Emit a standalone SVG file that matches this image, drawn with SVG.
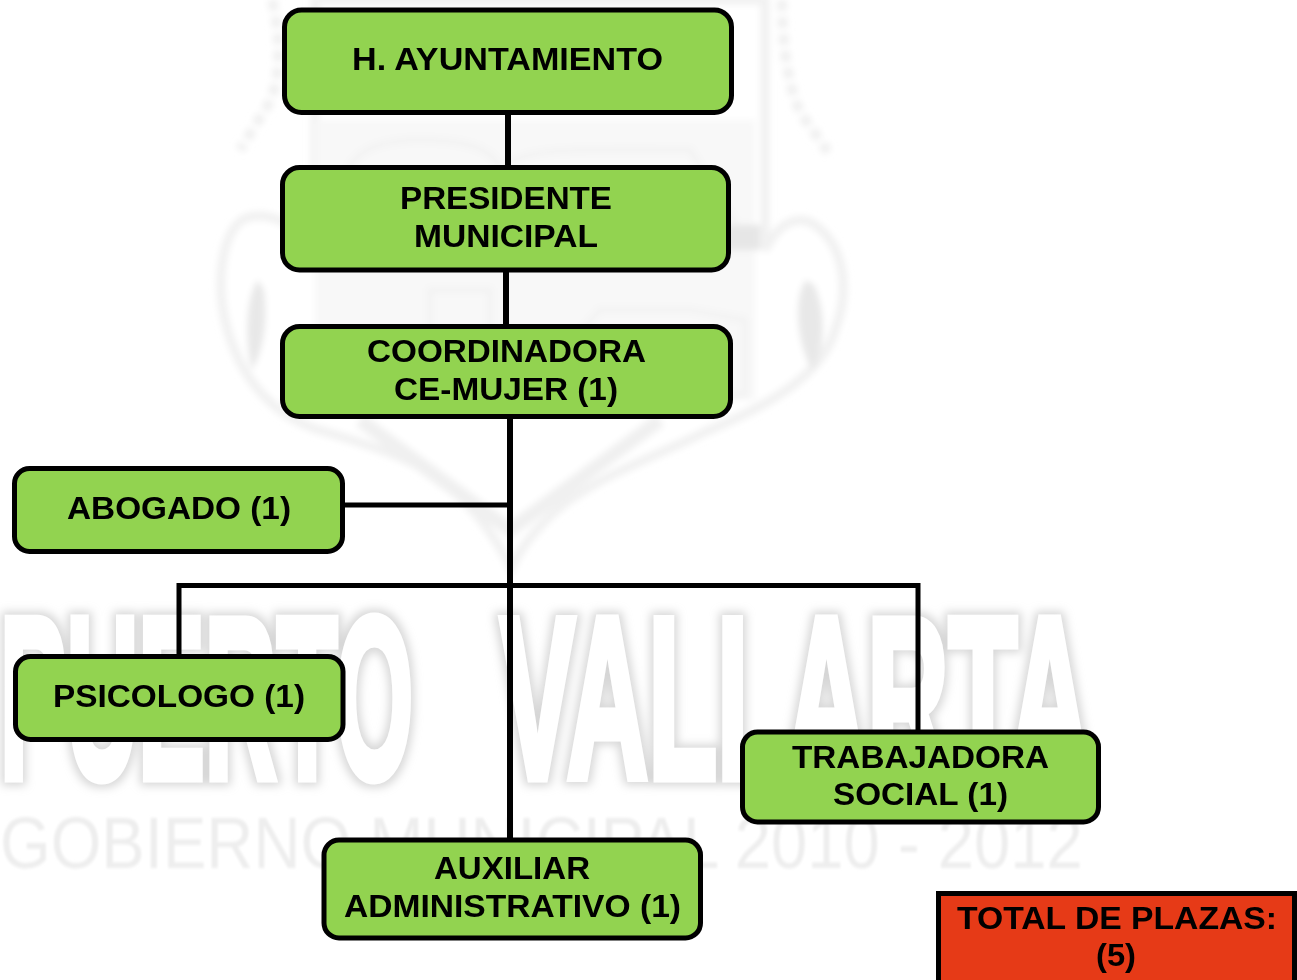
<svg xmlns="http://www.w3.org/2000/svg" width="1297" height="980" viewBox="0 0 1297 980">
<style>
.n{fill:#92D350;stroke:#000;stroke-width:5}
.r{fill:#E63A17;stroke:#000;stroke-width:5}
.c{stroke:#000;fill:none}
text.t{font-family:"Liberation Sans",Arial,sans-serif;font-weight:700;font-size:31px;fill:#000}
.wm{font-family:"Liberation Sans",Arial,sans-serif;fill:#fff;stroke:#fff;stroke-width:9;font-size:230px;font-weight:700}
.ws{fill:#fff;stroke:#f1f1f1;stroke-width:9}
.wl{fill:none;stroke:#f0f0f0}
</style>
<defs>
<filter id="glow" x="-10%" y="-20%" width="120%" height="140%">
<feMorphology in="SourceAlpha" operator="dilate" radius="3" result="d"/>
<feGaussianBlur in="d" stdDeviation="5" result="b"/>
<feFlood flood-color="#d6d6d6"/>
<feComposite in2="b" operator="in" result="g"/>
<feMerge><feMergeNode in="g"/><feMergeNode in="SourceGraphic"/></feMerge>
</filter>
<filter id="soft" x="-10%" y="-10%" width="120%" height="120%"><feGaussianBlur stdDeviation="3"/></filter>
<filter id="soft2" x="-5%" y="-20%" width="110%" height="140%"><feGaussianBlur stdDeviation="1.4"/></filter>
</defs>
<rect width="1297" height="980" fill="#fff"/>
<g id="watermark">
<g filter="url(#soft)">
<path class="ws" d="M242 220C222 235 216 280 225 320C240 385 280 420 326 432C380 448 430 465 455 492C480 515 500 545 511 568C522 545 545 515 579 494C615 470 665 452 705 432C770 405 822 375 835 330C852 285 842 240 810 222C790 215 775 230 765 250L765 0L315 0L315 250C300 225 265 208 242 220Z"/>
<path d="M258 280C246 295 244 340 252 370C264 350 268 320 264 290Z" fill="#e8e8e8"/>
<path d="M806 280C794 295 795 340 812 370C826 350 826 310 814 285Z" fill="#e8e8e8"/>
<rect x="315" y="120" width="440" height="280" fill="#f8f8f8"/>
<path class="wl" stroke-width="4" d="M340 230C335 160 360 140 420 140C470 140 495 150 500 170C520 145 590 150 690 150L740 230"/>
<path class="wl" stroke-width="4" d="M430 290L490 290L490 360L430 360ZM555 360L600 310L690 310L745 320L745 395L555 395Z"/>
<path d="M715 225H760V250H715Z" fill="#e6e6e6"/>
<path class="wl" stroke-width="10" stroke-dasharray="11 6" d="M272 0C282 40 280 85 268 105L240 150"/>
<path class="wl" stroke-width="10" stroke-dasharray="11 6" d="M782 0C782 50 790 95 802 115L828 152"/>
<path class="wl" stroke-width="14" d="M360 420L510 530L660 420"/>
</g>
<g filter="url(#glow)">
<text class="wm" transform="translate(0 778) scale(0.433 1)">PUERTO</text>
<text class="wm" transform="translate(500 778) scale(0.49 1)">VALLARTA</text>
</g>
<text transform="translate(0 868) scale(0.905 1)" font-family="Liberation Sans,sans-serif" font-size="72" fill="#eeeeee" filter="url(#soft2)">GOBIERNO MUNICIPAL 2010 - 2012</text>
</g>
<g id="connectors" class="c">
<path stroke-width="6" d="M508 113V166"/>
<path stroke-width="6" d="M506 271V326"/>
<path stroke-width="6" d="M510 418V838"/>
<path stroke-width="5" d="M343 505H510"/>
<path stroke-width="5" d="M179 655V585.500H918V731"/>
</g>
<g id="n-ayuntamiento"><rect class="n" x="284.500" y="10" width="447" height="102.500" rx="17"/><text class="t" x="352" y="70" textLength="311" lengthAdjust="spacingAndGlyphs">H. AYUNTAMIENTO</text></g>
<g id="n-presidente"><rect class="n" x="282.500" y="167.500" width="446" height="102.500" rx="17"/><text class="t" x="400" y="209" textLength="212" lengthAdjust="spacingAndGlyphs">PRESIDENTE</text><text class="t" x="414" y="247" textLength="184" lengthAdjust="spacingAndGlyphs">MUNICIPAL</text></g>
<g id="n-coordinadora"><rect class="n" x="282.500" y="326.500" width="448" height="90" rx="17"/><text class="t" x="367" y="362" textLength="279" lengthAdjust="spacingAndGlyphs">COORDINADORA</text><text class="t" x="394" y="400" textLength="224" lengthAdjust="spacingAndGlyphs">CE-MUJER (1)</text></g>
<g id="n-abogado"><rect class="n" x="14.500" y="468.500" width="328" height="83" rx="15"/><text class="t" x="67" y="519" textLength="224" lengthAdjust="spacingAndGlyphs">ABOGADO (1)</text></g>
<g id="n-psicologo"><rect class="n" x="15.500" y="656.500" width="327.500" height="83" rx="15"/><text class="t" x="53" y="707" textLength="252" lengthAdjust="spacingAndGlyphs">PSICOLOGO (1)</text></g>
<g id="n-trabajadora"><rect class="n" x="742.500" y="732" width="356" height="90" rx="15"/><text class="t" x="792" y="768" textLength="257" lengthAdjust="spacingAndGlyphs">TRABAJADORA</text><text class="t" x="833" y="805" textLength="175" lengthAdjust="spacingAndGlyphs">SOCIAL (1)</text></g>
<g id="n-auxiliar"><rect class="n" x="324" y="840" width="376.500" height="98" rx="15"/><text class="t" x="434" y="879" textLength="156" lengthAdjust="spacingAndGlyphs">AUXILIAR</text><text class="t" x="344" y="917" textLength="337" lengthAdjust="spacingAndGlyphs">ADMINISTRATIVO (1)</text></g>
<g id="n-total"><rect class="r" x="938.500" y="893.500" width="356" height="95"/><text class="t" x="957" y="929" textLength="320" lengthAdjust="spacingAndGlyphs">TOTAL DE PLAZAS:</text><text class="t" x="1096" y="966" textLength="40" lengthAdjust="spacingAndGlyphs">(5)</text></g>
</svg>
